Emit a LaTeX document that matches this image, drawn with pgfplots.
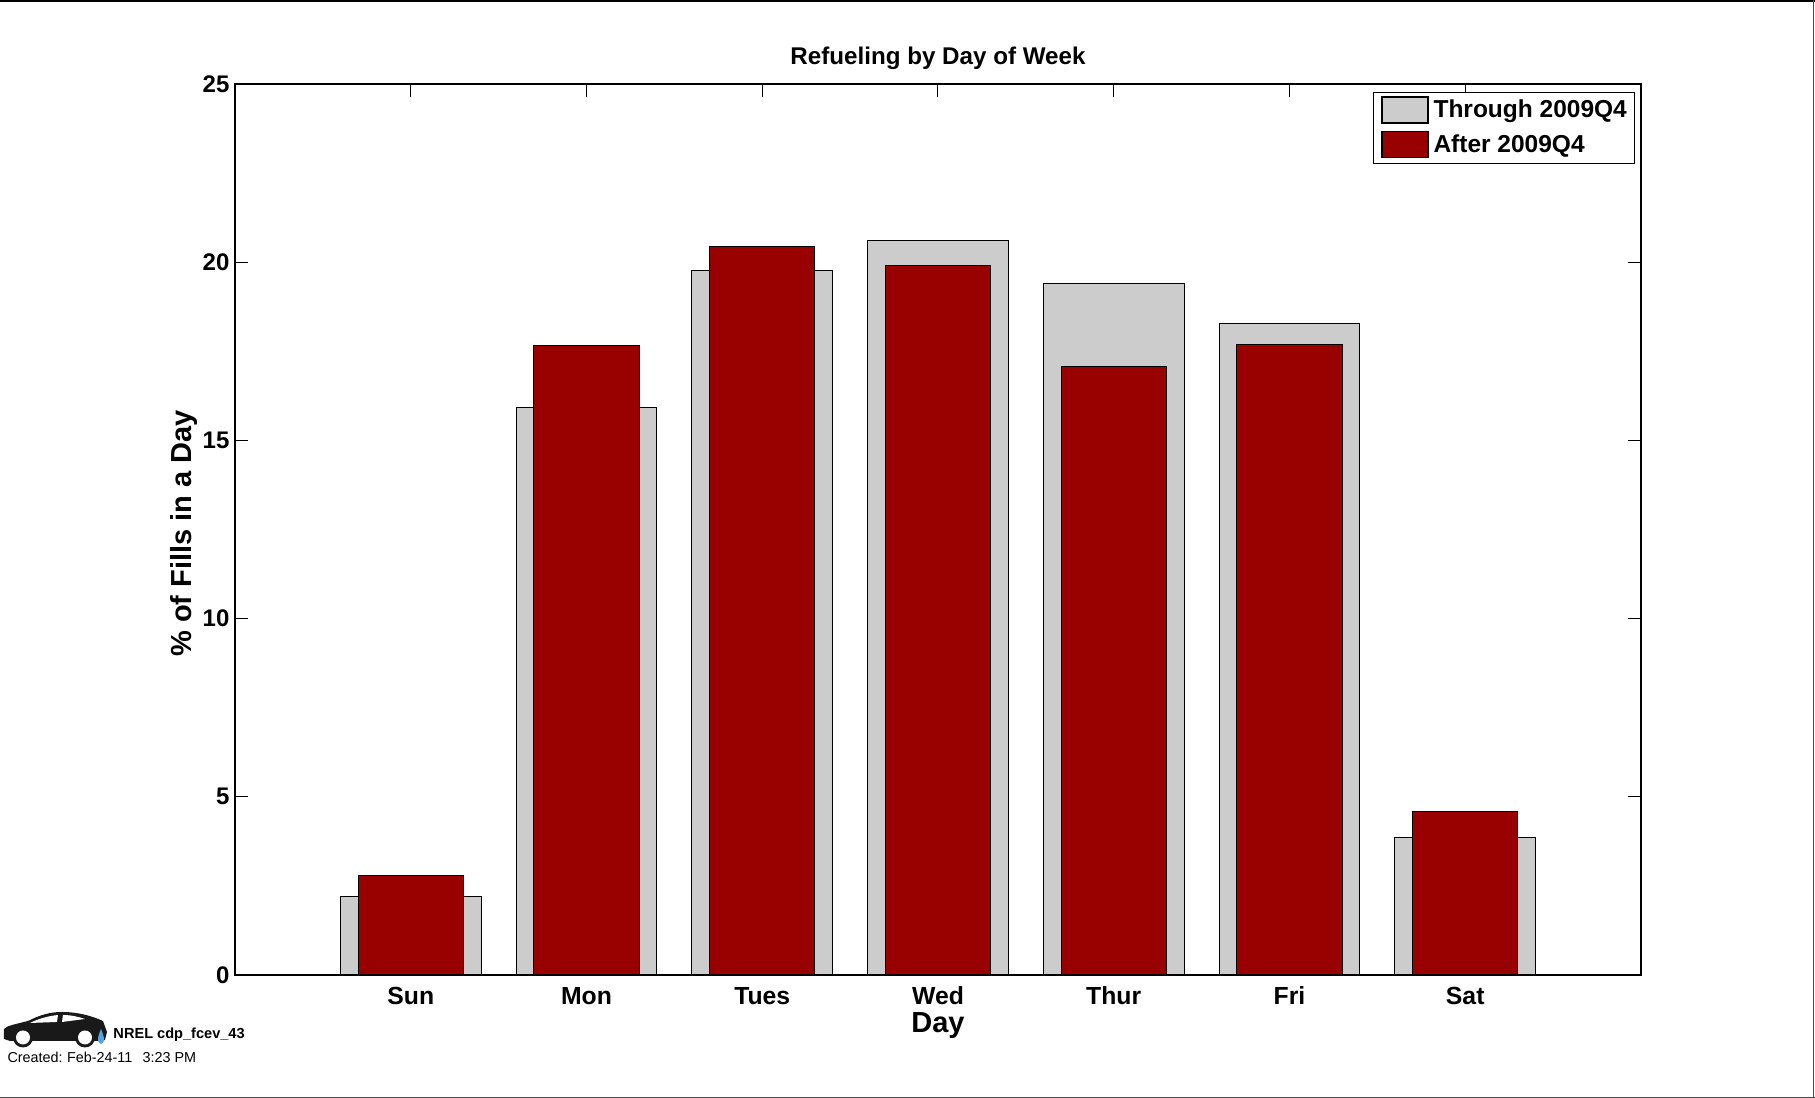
\documentclass[border=0pt]{standalone}
\usepackage{fontspec}
\setmainfont{Liberation Sans}
\usepackage{pgfplots}
\pgfplotsset{compat=1.18}
\definecolor{barGray}{HTML}{CCCCCC}
\definecolor{barRed}{HTML}{990000}
% reference pixel = 0.4pt
\begin{document}
\begin{tikzpicture}
  \path[use as bounding box] (0,0.7pt) rectangle (726pt,439.6pt);
  \begin{axis}[
    at={(94pt,49.6pt)}, anchor=south west,
    scale only axis, width=562.4pt, height=356.4pt,
    xmin=0, xmax=8, ymin=0, ymax=25,
    xtick={1,2,3,4,5,6,7},
    xticklabels={Sun,Mon,Tues,Wed,Thur,Fri,Sat},
    ytick={0,5,10,15,20,25},
    tick align=inside, tick pos=both,
    major tick length=5.2pt,
    tick style={black, line width=0.4pt},
    axis line style={black, line width=0.7pt},
    /pgf/number format/assume math mode=true,
    tick label style={font=\bfseries\fontsize{9.6}{11}\selectfont},
    xticklabel style={font=\bfseries\fontsize{9.9}{11}\selectfont, text height=7.2pt, text depth=0pt, yshift=-1pt},
    yticklabel style={xshift=1.3pt},
    title={\bfseries Refueling by Day of Week},
    title style={font=\fontsize{9.67}{11}\selectfont, at={(axis description cs:0.5,1)}, anchor=south, yshift=-3.9pt},
    xlabel={\bfseries Day},
    xlabel style={font=\fontsize{11.6}{13}\selectfont, yshift=3.5pt},
    ylabel={\bfseries \% of Fills in a Day},
    ylabel style={font=\fontsize{11.6}{13}\selectfont, yshift=-4.6pt, xshift=-1.6pt},
    legend cell align=left,
    legend style={at={(1635*0.4pt-94pt,1099*0.4pt-92*0.4pt-49.6pt)}, anchor=north east,
      draw=black, line width=0.5pt, inner sep=1pt, row sep=1.1pt,
      font=\bfseries\fontsize{9.8}{11}\selectfont},
    legend image code/.code={
      \path[draw=none, fill=none] (-3.3pt,0) -- (17.4pt,0);
      \draw[#1, line width=0.5pt] (-1pt,-4.8pt) rectangle (17.4pt,5.6pt);
    },
  ]
    \addplot[ybar, bar shift=0pt, bar width=0.8, fill=barGray, draw=black, line width=0.4pt]
      coordinates {(1,2.2) (2,15.93) (3,19.76) (4,20.62) (5,19.4) (6,18.27) (7,3.86)};
    \addplot[ybar, bar shift=0pt, bar width=0.6, fill=barRed, draw=black, line width=0.4pt]
      coordinates {(1,2.79) (2,17.65) (3,20.43) (4,19.9) (5,17.08) (6,17.68) (7,4.6)};
    \legend{Through 2009Q4, After 2009Q4}
  \end{axis}
  % page frame and the logo block, in reference pixels from the top left
  \begin{scope}[x=0.4pt, y=-0.4pt, yshift=439.6pt]
    \draw[black, line width=0.9pt] (0,1) -- (1815,1);
    \draw[black!70, line width=0.4pt] (1814,0) -- (1814,1099);
    \draw[black!70, line width=0.5pt] (0,1097.5) -- (1815,1097.5);
    % car
    \fill[black!90] (4,1039) -- (4,1029) .. controls (6,1026) and (16,1024) .. (28,1021)
      .. controls (40,1015) and (50,1012) .. (62,1012)
      .. controls (78,1012) and (92,1016) .. (103,1021)
      -- (107,1032) -- (105,1040) -- (98,1041) -- (10,1041) -- cycle;
    \fill[white] (30,1023) .. controls (38,1019) and (48,1016) .. (58,1015)
      -- (57,1022) -- cycle;
    \fill[white] (63,1015) .. controls (71,1015) and (79,1017) .. (85,1019)
      -- (62,1022) -- cycle;
    \fill[black!90] (23,1037.5) circle (10);
    \fill[black!90] (85,1037.5) circle (10);
    \fill[white] (23,1037.5) circle (7);
    \fill[white] (85,1037.5) circle (7);
    \fill[cyan!70!blue!70] (101,1029) .. controls (98,1036) and (96,1043) .. (101,1044)
      .. controls (106,1043) and (104,1036) .. (101,1029) -- cycle;
    \node[anchor=west, inner sep=0pt, font=\bfseries\fontsize{5.83}{7}\selectfont] at (113,1035) {NREL cdp\_fcev\_43};
    \node[anchor=west, inner sep=0pt, font=\fontsize{5.75}{7}\selectfont] at (7,1057) {Created:\hspace{1.8pt}Feb-24-11\hspace{4.1pt}3:23 PM};
  \end{scope}
\end{tikzpicture}
\end{document}
